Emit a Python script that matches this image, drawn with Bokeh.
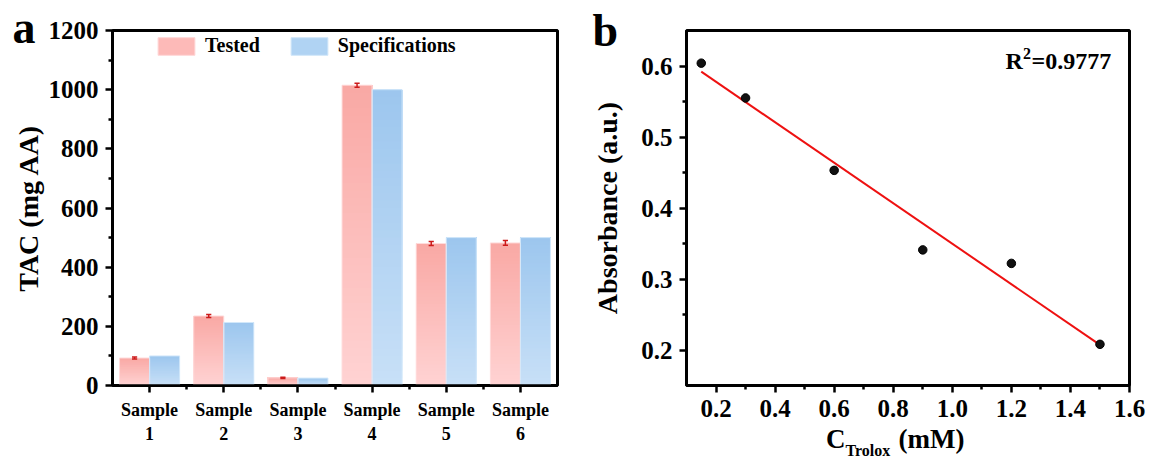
import numpy as np
from bokeh.plotting import figure
from bokeh.layouts import row
from bokeh.core.properties import value
from bokeh.models import (ColumnDataSource, FixedTicker, Range1d, Legend,
                          LegendItem, Title, PrintfTickFormatter)
from bokeh.embed import file_html
from bokeh.resources import INLINE

# ---- data -------------------------------------------------------------
samples = ["Sample\n1", "Sample\n2", "Sample\n3", "Sample\n4", "Sample\n5", "Sample\n6"]
tested = [93, 235, 26, 1015, 480, 482]
tested_err = [3, 5, 2, 7, 7, 8]
specifications = [100, 213, 25, 1000, 500, 500]

trolox_mM = [0.15, 0.3, 0.6, 0.9, 1.2, 1.5]
absorbance = [0.604, 0.555, 0.453, 0.341, 0.322, 0.208]
r_squared = "0.9777"

FONT = "Liberation Serif"
BAR_W = 0.405


def hex_rgb(h):
    h = h.lstrip("#")
    return tuple(int(h[i:i + 2], 16) for i in (0, 2, 4))


def blend(c0, c1, t):
    a, b = hex_rgb(c0), hex_rgb(c1)
    return "#%02x%02x%02x" % tuple(int(round(a[i] + (b[i] - a[i]) * t)) for i in range(3))


def gradient_bars(centers, values, bottom_hex, top_hex, n=40):
    # stacked overlapping slices: each starts higher and runs to the bar top
    cols = dict(left=[], right=[], bottom=[], top=[], color=[])
    for k in range(n):
        for c, v in zip(centers, values):
            cols["left"].append(c - BAR_W / 2)
            cols["right"].append(c + BAR_W / 2)
            cols["bottom"].append(v * k / n)
            cols["top"].append(v)
            cols["color"].append(blend(bottom_hex, top_hex, (k + 0.5) / n))
    return ColumnDataSource(cols)


def style_axis(ax, tick_size, label_size=28):
    ax.axis_line_width = 2.5
    ax.axis_line_color = "black"
    ax.major_tick_line_width = 2.5
    ax.minor_tick_line_width = 2.5
    ax.major_tick_in = 0
    ax.major_tick_out = 7
    ax.minor_tick_in = 0
    ax.minor_tick_out = 4
    ax.major_label_text_font = FONT
    ax.major_label_text_font_style = "bold"
    ax.major_label_text_font_size = f"{tick_size}px"
    ax.major_label_text_color = "black"
    ax.axis_label_text_font = FONT
    ax.axis_label_text_font_style = "bold"
    ax.axis_label_text_font_size = f"{label_size}px"
    ax.axis_label_text_color = "black"


def base_figure(width, xr, yr, left, right, top, bottom):
    p = figure(width=width, height=463, x_range=xr, y_range=yr,
               output_backend="svg", toolbar_location=None,
               min_border_left=left, min_border_right=right,
               min_border_top=top, min_border_bottom=bottom)
    p.xgrid.grid_line_color = None
    p.ygrid.grid_line_color = None
    p.outline_line_color = "black"
    p.outline_line_width = 3
    p.outline_line_alpha = 1
    p.background_fill_color = "white"
    p.border_fill_color = "white"
    return p


def free_text(p, x, y, dx, dy, text, size):
    # text glyph anchored at a data point, shifted by screen pixels (dy down);
    # drawn at overlay level so it may sit outside the frame
    p.text(x=[x], y=[y], text=[text], x_offset=dx, y_offset=dy,
           text_font=value(FONT), text_font_style="bold",
           text_font_size=f"{size}px", text_color="black",
           text_baseline="alphabetic", text_align="left", level="overlay")


# ---- panel a: TAC bar chart ------------------------------------------
pos = np.arange(1, len(samples) + 1)
pa = base_figure(575, Range1d(0.5, 6.5), Range1d(0, 1200), 112, 18, 30, 75)

t_centers = pos - BAR_W / 2
s_centers = pos + BAR_W / 2

pa.quad(left="left", right="right", bottom="bottom", top="top",
        fill_color="color", line_color=None,
        source=gradient_bars(t_centers, tested, "#ffd3d3", "#f9a8a4"))
pa.quad(left="left", right="right", bottom="bottom", top="top",
        fill_color="color", line_color=None,
        source=gradient_bars(s_centers, specifications, "#c8e0f7", "#9cc6ee"))

pa.quad(left=t_centers - BAR_W / 2, right=t_centers + BAR_W / 2,
        bottom=0, top=tested, fill_alpha=0, line_color="#ffdcdc", line_width=1)
pa.quad(left=s_centers - BAR_W / 2, right=s_centers + BAR_W / 2,
        bottom=0, top=specifications, fill_alpha=0, line_color="#d3e8fa", line_width=1)

lo = [v - e for v, e in zip(tested, tested_err)]
hi = [v + e for v, e in zip(tested, tested_err)]
err_color = "#cc1a1a"
pa.segment(x0=t_centers, x1=t_centers, y0=lo, y1=hi, line_color=err_color, line_width=1.5)
pa.segment(x0=t_centers - 0.035, x1=t_centers + 0.035, y0=lo, y1=lo,
           line_color=err_color, line_width=1.5)
pa.segment(x0=t_centers - 0.035, x1=t_centers + 0.035, y0=hi, y1=hi,
           line_color=err_color, line_width=1.5)

proxy_t = pa.quad(left=[1], right=[1], bottom=[0], top=[0], fill_color="#fdbab8",
                  line_color="#ffd6d6", line_width=1)
proxy_s = pa.quad(left=[1], right=[1], bottom=[0], top=[0], fill_color="#b0d3f3",
                  line_color="#d0e6f8", line_width=1)
legend = Legend(items=[LegendItem(label="Tested", renderers=[proxy_t]),
                       LegendItem(label="Specifications", renderers=[proxy_s])],
                orientation="horizontal", location=(41, 328),
                glyph_width=46, glyph_height=22, label_standoff=6, spacing=26,
                padding=0, margin=0, border_line_color=None,
                background_fill_alpha=0,
                label_text_font=FONT, label_text_font_style="bold",
                label_text_font_size="20px", label_text_color="black",
                label_height=22)
pa.add_layout(legend)

pa.xaxis.ticker = FixedTicker(ticks=list(pos), minor_ticks=[1.5, 2.5, 3.5, 4.5, 5.5])
pa.xaxis.major_label_overrides = {int(i): s for i, s in zip(pos, samples)}
pa.yaxis.ticker = FixedTicker(ticks=list(range(0, 1201, 200)),
                              minor_ticks=list(range(100, 1200, 200)))
style_axis(pa.xaxis[0], 18)
style_axis(pa.yaxis[0], 25)
pa.xaxis.major_label_standoff = 7
pa.yaxis.major_label_standoff = 7
pa.yaxis.axis_label = "TAC (mg AA)"
pa.yaxis.axis_label_standoff = 2

pa.title = Title(text="a", align="left", offset=-100, standoff=-44,
                 vertical_align="bottom", text_font=FONT, text_font_style="bold",
                 text_font_size="46px", text_color="black")

# ---- panel b: Trolox calibration --------------------------------------
pb = base_figure(574, Range1d(0.1, 1.6), Range1d(0.15, 0.65), 111, 20, 28, 78)

slope, intercept = np.polyfit(trolox_mM, absorbance, 1)
fit_x = [min(trolox_mM), max(trolox_mM)]
fit_y = [slope * x + intercept for x in fit_x]
pb.line(fit_x, fit_y, line_color="#ee1111", line_width=2)
pb.scatter(trolox_mM, absorbance, size=8.5, fill_color="#111111", line_color="black")

pb.xaxis.ticker = FixedTicker(ticks=[0.2, 0.4, 0.6, 0.8, 1.0, 1.2, 1.4, 1.6],
                              minor_ticks=[0.3, 0.5, 0.7, 0.9, 1.1, 1.3, 1.5])
pb.yaxis.ticker = FixedTicker(ticks=[0.2, 0.3, 0.4, 0.5, 0.6],
                              minor_ticks=[0.25, 0.35, 0.45, 0.55])
pb.xaxis.formatter = PrintfTickFormatter(format="%.1f")
pb.yaxis.formatter = PrintfTickFormatter(format="%.1f")
style_axis(pb.xaxis[0], 25)
style_axis(pb.yaxis[0], 25)
pb.xaxis.major_label_standoff = 7
pb.yaxis.major_label_standoff = 7
pb.yaxis.axis_label = "Absorbance (a.u.)"
pb.yaxis.axis_label_standoff = 15

# x-axis title with subscript
free_text(pb, 0.85, 0.15, -82, 53, "C", 27)
free_text(pb, 0.85, 0.15, -62.5, 65, "Trolox", 16)
free_text(pb, 0.85, 0.15, -9.5, 53, "(mM)", 27)

# R squared annotation with superscript
free_text(pb, 1.6, 0.65, -124, 30, "R", 24)
free_text(pb, 1.6, 0.65, -106.5, 23, "2", 16)
free_text(pb, 1.6, 0.65, -98, 30, "=" + r_squared, 24)

free_text(pb, 0.1, 0.65, -94, 0, "b", 46)

layout = row(pa, pb)
open("out.html", "w").write(file_html(layout, INLINE))
